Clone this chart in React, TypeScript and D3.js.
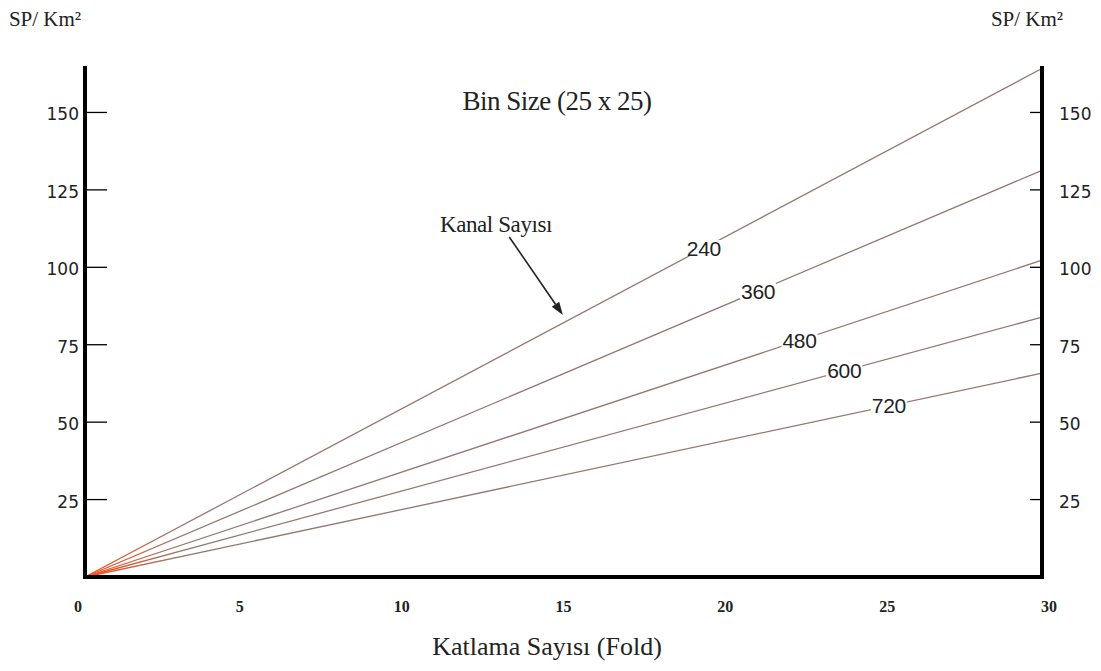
import React from 'react';
import * as d3 from 'd3';

// Kanal sayıları ve 30 fold'da okunan SP/Km² değerleri
const channels = ['240', '360', '480', '600', '720'];
const folds = [0, 30];
const spAt0 = [0, 0, 0, 0, 0];
const spAt30 = [164.2, 131.3, 102.3, 83.9, 65.8];
// etiketlerin çizgi üzerinde durduğu fold değeri
const labelFold = [19.4, 21.1, 22.4, 23.8, 25.2];

const yTicks = [25, 50, 75, 100, 125, 150];
const xTicks = [0, 5, 10, 15, 20, 25, 30];

const title = 'Bin Size (25 x 25)';
const yTitle = 'SP/ Km²';
const xTitle = 'Katlama Sayısı (Fold)';
const arrowText = 'Kanal Sayısı';
// ok: [fold, SP] başlangıç ve bitiş
const arrowFrom = [13.3, 109.8];
const arrowTo = [14.98, 84.6];

const W = 1101;
const H = 671;

export default function App() {
  const x = d3.scaleLinear().domain([0, 30]).range([85, 1042]);
  const xLab = d3.scaleLinear().domain([0, 30]).range([78, 1049]);
  const y = d3.scaleLinear().domain([0, 165]).range([577, 66]);

  const series = channels.map((c, i) => ({
    name: c,
    points: folds.map((f, j) => ({ fold: f, sp: j === 0 ? spAt0[i] : spAt30[i] })),
  }));

  const line = d3
    .line<{ fold: number; sp: number }>()
    .x((d) => x(d.fold))
    .y((d) => y(d.sp));

  const slope = (i: number) => (spAt30[i] - spAt0[i]) / 30;

  // ok başı
  const ax0 = x(arrowFrom[0]);
  const ay0 = y(arrowFrom[1]);
  const ax1 = x(arrowTo[0]);
  const ay1 = y(arrowTo[1]);
  const ang = Math.atan2(ay1 - ay0, ax1 - ax0);
  const headLen = 13;
  const headW = 4.5;
  const bx = ax1 - headLen * Math.cos(ang);
  const by = ay1 - headLen * Math.sin(ang);
  const head = [
    [ax1, ay1],
    [bx + headW * Math.sin(ang), by - headW * Math.cos(ang)],
    [bx - headW * Math.sin(ang), by + headW * Math.cos(ang)],
  ];

  const serif = '"Liberation Serif", "Times New Roman", serif';
  const sans = '"DejaVu Sans", Verdana, sans-serif';

  return (
    <svg
      width={W}
      height={H}
      style={{ position: 'absolute', left: 0, top: 0, background: '#fff' }}
    >
      <defs>
        <linearGradient id="lineGrad" gradientUnits="userSpaceOnUse" x1={x(0)} y1={0} x2={x(3)} y2={0}>
          <stop offset="0%" stopColor="#ff4a18" />
          <stop offset="45%" stopColor="#d0603c" />
          <stop offset="100%" stopColor="#967670" />
        </linearGradient>
      </defs>

      {/* çizgiler */}
      {series.map((s) => (
        <path
          key={s.name}
          d={line(s.points) || ''}
          fill="none"
          stroke="url(#lineGrad)"
          strokeWidth={1.3}
        />
      ))}

      {/* çizgi etiketleri */}
      {series.map((s, i) => {
        const lx = x(labelFold[i]);
        const ly = y(slope(i) * labelFold[i]);
        return (
          <g key={'lab' + s.name}>
            <rect x={lx - 18} y={ly - 8} width={36} height={16} fill="#fff" />
            <text
              x={lx}
              y={ly}
              textAnchor="middle"
              dominantBaseline="central"
              fontFamily='"Liberation Sans", Arial, sans-serif'
              fontSize={21}
              letterSpacing={-0.3}
              fill="#222"
            >
              {s.name}
            </text>
          </g>
        );
      })}

      {/* eksenler */}
      <line x1={x(0)} x2={x(0)} y1={y(165)} y2={y(0) + 2} stroke="#000" strokeWidth={4} />
      <line x1={x(30)} x2={x(30)} y1={y(165)} y2={y(0) + 2} stroke="#000" strokeWidth={4} />
      <line x1={x(0) - 2} x2={x(30) + 2} y1={y(0)} y2={y(0)} stroke="#000" strokeWidth={4} />

      {yTicks.map((t) => (
        <g key={'yt' + t}>
          <line x1={x(0)} x2={x(0) + 22} y1={y(t)} y2={y(t)} stroke="#000" strokeWidth={1.3} />
          <line x1={x(30) - 12} x2={x(30)} y1={y(t)} y2={y(t)} stroke="#000" strokeWidth={1.3} />
          <text
            x={x(0) - 6}
            y={y(t) + 2}
            textAnchor="end"
            dominantBaseline="central"
            fontFamily={sans}
            fontSize={17}
            fill="#222"
          >
            {t}
          </text>
          <text
            x={x(30) + 17}
            y={y(t) + 2}
            textAnchor="start"
            dominantBaseline="central"
            fontFamily={sans}
            fontSize={17}
            fill="#222"
          >
            {t}
          </text>
        </g>
      ))}

      {xTicks.map((t) => (
        <text
          key={'xt' + t}
          x={xLab(t)}
          y={606}
          textAnchor="middle"
          dominantBaseline="central"
          fontFamily={serif}
          fontWeight="bold"
          fontSize={16}
          fill="#222"
        >
          {t}
        </text>
      ))}

      {/* başlıklar */}
      <text x={45} y={26} textAnchor="middle" fontFamily={serif} fontSize={21} fill="#222">
        {yTitle}
      </text>
      <text x={1027} y={26} textAnchor="middle" fontFamily={serif} fontSize={21} fill="#222">
        {yTitle}
      </text>
      <text x={557} y={110} textAnchor="middle" fontFamily={serif} fontSize={27} letterSpacing={-0.5} fill="#222">
        {title}
      </text>
      <text x={547} y={655} textAnchor="middle" fontFamily={serif} fontSize={26} fill="#222">
        {xTitle}
      </text>

      {/* Kanal Sayısı oku */}
      <text x={496} y={232} textAnchor="middle" fontFamily={serif} fontSize={23} letterSpacing={-0.4} fill="#222">
        {arrowText}
      </text>
      <line x1={ax0} y1={ay0} x2={bx} y2={by} stroke="#222" strokeWidth={1.6} />
      <polygon points={head.map((p) => p.join(',')).join(' ')} fill="#222" />
    </svg>
  );
}
